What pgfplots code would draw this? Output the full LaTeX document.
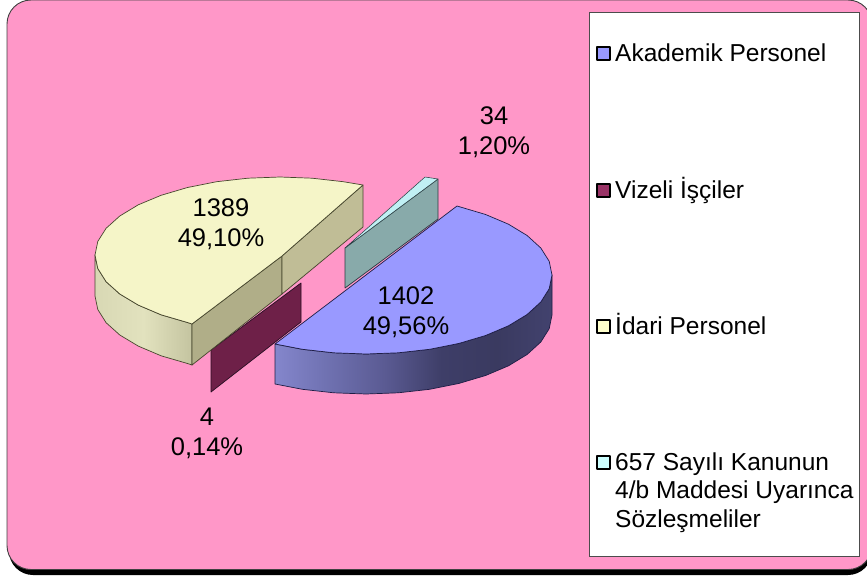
\documentclass[border=0pt]{standalone}
\usepackage{pgfplots}
\pgfplotsset{compat=1.18}
\usepackage{fontspec}
\setmainfont{Liberation Sans}
\definecolor{pinkbg}{HTML}{FF97C8}
\definecolor{ba}{RGB}{132,134,204}
\definecolor{bb}{RGB}{112,114,178}
\definecolor{bc}{RGB}{90,90,146}
\definecolor{bd}{RGB}{62,62,104}
\definecolor{be}{RGB}{58,58,96}
\definecolor{bf}{RGB}{66,66,110}
\definecolor{ya}{RGB}{216,216,180}
\definecolor{yb}{RGB}{226,226,190}
\definecolor{yc}{RGB}{196,196,160}
\definecolor{yline}{RGB}{70,70,45}
\definecolor{bline}{RGB}{30,30,70}
\definecolor{tline}{RGB}{40,60,65}
\pgfdeclarehorizontalshading{blueside}{100bp}{color(0bp)=(ba);color(25bp)=(ba);color(34bp)=(bb);color(45bp)=(bc);color(55bp)=(bd);color(65bp)=(be);color(75bp)=(bf);color(100bp)=(bf)}
\pgfdeclarehorizontalshading{yelside}{100bp}{color(0bp)=(ya);color(25bp)=(ya);color(50bp)=(yb);color(75bp)=(yc);color(100bp)=(yc)}
\newcommand{\lab}[4]{\node[anchor=base,font=\fontsize{#1}{#1}\selectfont,inner sep=0pt] at (axis cs:#2,#3) {#4};}
\newcommand{\leg}[3]{\node[anchor=base west,font=\fontsize{24.5}{24.5}\selectfont,inner sep=0pt] at (axis cs:#1,#2) {#3};}
\begin{document}
\begin{tikzpicture}[x=1pt,y=1pt]
\useasboundingbox (0,0) rectangle (867pt,578pt);
\begin{axis}[at={(0,0)},anchor=south west,width=867pt,height=578pt,scale only axis,
  xmin=0,xmax=867,ymin=0,ymax=578,y dir=reverse,hide axis,
  every axis plot/.append style={mark=none,sharp plot,line join=round}]
% background
\fill[black,rounded corners=24pt] (axis cs:9,8) rectangle (axis cs:872,575);
\draw[fill=pinkbg,draw=black!75,line width=0.9pt,rounded corners=24pt] (axis cs:7,0) rectangle (axis cs:872,569.5);
% legend box
\draw[fill=white,draw=black!70,line width=0.9pt] (axis cs:589,12.5) rectangle (axis cs:859,556);
% teal slice
\addplot[fill={rgb,255:red,136;green,170;blue,170},draw=tline,line width=0.7pt] coordinates {(345,248) (438,179) (438,219) (345,288)} --cycle;
\addplot[fill={rgb,255:red,192;green,240;blue,244},draw=tline,line width=0.5pt] coordinates {(345,248) (425,177) (438,179)} --cycle;
% maroon slice
\addplot[fill={rgb,255:red,110;green,32;blue,72},draw={rgb,255:red,40;green,15;blue,35},line width=0.7pt] coordinates {(211,350) (301,283) (301,322) (211,392)} --cycle;
% yellow slice sides
\addplot[shade,shading=yelside,draw=yline,line width=0.7pt] coordinates {(95,255) (97.8,268.5) (106.1,281.7) (119.8,294) (138.3,305.1) (161.1,314.8) (187.5,322.5) (192,324) (192,365) (187.5,363.5) (161.1,355.8) (138.3,346.1) (119.8,335) (106.1,322.7) (97.8,309.5) (95,296)} --cycle;
\addplot[fill={rgb,255:red,176;green,174;blue,136},draw=yline,line width=0.7pt] coordinates {(192,324) (282,256) (282,294) (192,365)} --cycle;
\addplot[fill={rgb,255:red,192;green,189;blue,150},draw=yline,line width=0.7pt] coordinates {(282,256) (363,185) (363,227) (282,294)} --cycle;
% yellow top
\addplot[fill={rgb,255:red,245;green,245;blue,200},draw=yline,line width=0.7pt] coordinates {(363,185) (343.3,181.7) (312.1,178.2) (280,177) (247.9,178.2) (216.7,181.7) (187.5,187.5) (161.1,195.3) (138.3,204.8) (119.8,216) (106.1,228.3) (97.8,241.4) (95,255) (97.8,268.5) (106.1,281.7) (119.8,294) (138.3,305.1) (161.1,314.8) (187.5,322.5) (192,324) (282,256)} --cycle;
% blue slice side
\addplot[shade,shading=blueside,draw=bline,line width=0.7pt] coordinates {(552,275) (549.2,288.7) (540.8,302) (527.1,314.5) (508.5,325.8) (485.6,335.5) (459,343.4) (429.6,349.3) (398.3,352.8) (366,354) (333.7,352.8) (302.4,349.3) (275,344) (275,384) (302.4,389.3) (333.7,392.8) (366,394) (398.3,392.8) (429.6,389.3) (459,383.4) (485.6,375.5) (508.5,365.8) (527.1,354.5) (540.8,342) (549.2,328.7) (552,315)} --cycle;
% blue top
\addplot[fill={rgb,255:red,153;green,153;blue,255},draw=bline,line width=0.7pt] coordinates {(457,206) (485.6,214.5) (508.5,224.2) (527.1,235.5) (540.8,248) (549.2,261.3) (552,275) (549.2,288.7) (540.8,302) (527.1,314.5) (508.5,325.8) (485.6,335.5) (459,343.4) (429.6,349.3) (398.3,352.8) (366,354) (333.7,352.8) (302.4,349.3) (275,344)} --cycle;
% legend keys
\addplot[fill={rgb,255:red,153;green,153;blue,255},draw=black,line width=1.6pt] coordinates {(597,47) (610,47) (610,60) (597,60)} --cycle;
\addplot[fill={rgb,255:red,153;green,51;blue,102},draw=black,line width=1.6pt] coordinates {(597,184) (610,184) (610,197) (597,197)} --cycle;
\addplot[fill={rgb,255:red,255;green,255;blue,204},draw=black,line width=1.6pt] coordinates {(597,320) (610,320) (610,333) (597,333)} --cycle;
\addplot[fill={rgb,255:red,204;green,255;blue,255},draw=black,line width=1.6pt] coordinates {(597,456) (610,456) (610,469) (597,469)} --cycle;
% data labels
\lab{25.5}{221}{216}{1389}
\lab{25.5}{221}{246}{49,10\%}
\lab{25.5}{406}{304}{1402}
\lab{25.5}{406}{334}{49,56\%}
\lab{25.5}{494}{124}{34}
\lab{25.5}{494}{154}{1,20\%}
\lab{25.5}{207}{425}{4}
\lab{25.5}{207}{455}{0,14\%}
% legend text
\leg{615}{62}{Akademik Personel}
\leg{615}{198}{Vizeli İşçiler}
\leg{615}{334}{İdari Personel}
\leg{615}{470}{657 Sayılı Kanunun}
\leg{615}{498.5}{4/b Maddesi Uyarınca}
\leg{615}{527}{Sözleşmeliler}
\end{axis}
\end{tikzpicture}
\end{document}
